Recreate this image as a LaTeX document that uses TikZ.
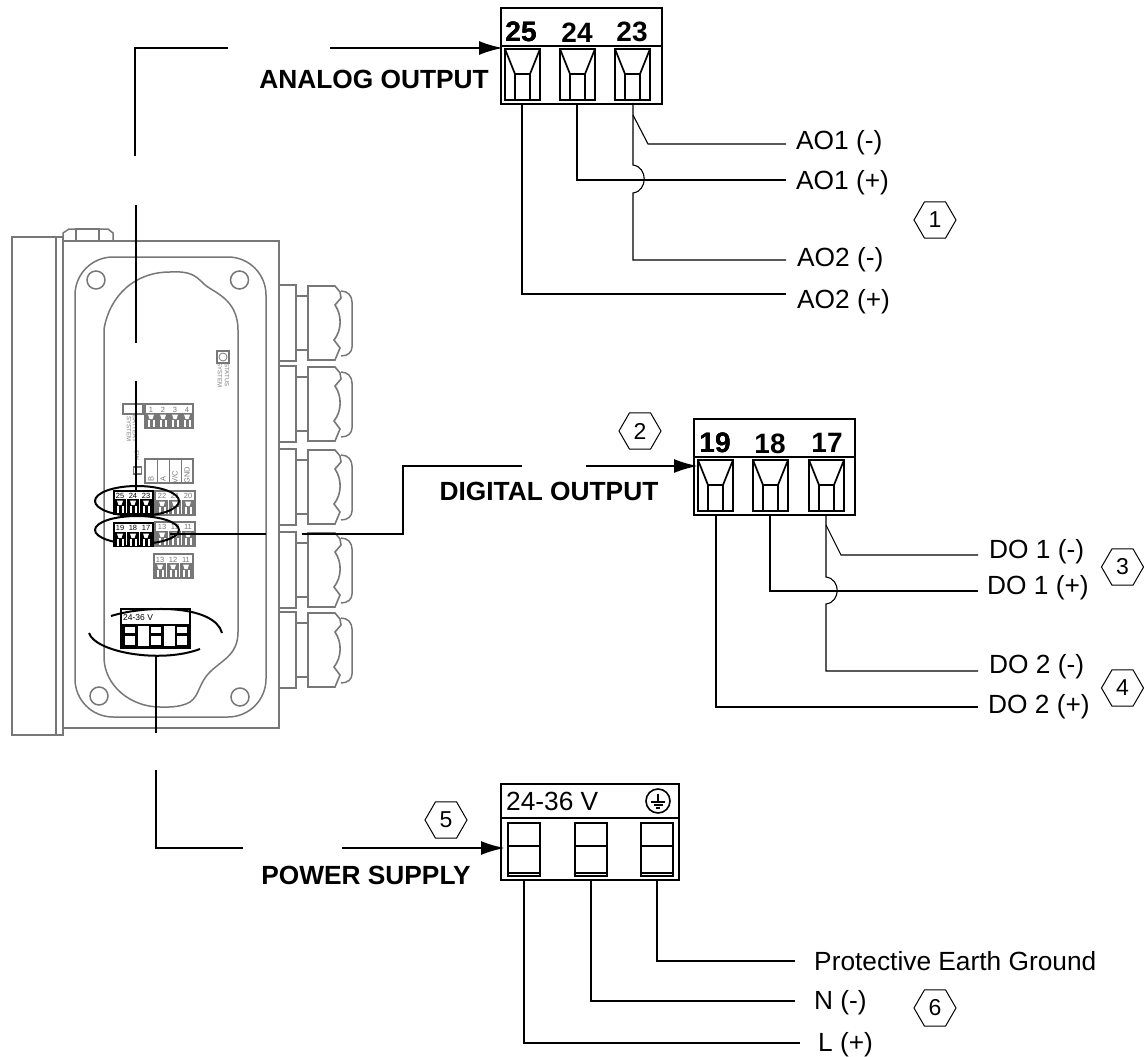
\documentclass[tikz,border=0pt]{standalone}
\usepackage{fontspec}
\setmainfont{Liberation Sans}
\usepackage{tikz}
\usetikzlibrary{arrows.meta,positioning,shapes.geometric}
\definecolor{devgray}{HTML}{777777}
\tikzset{
    device/.style={devgray, line width=1.5pt},
    leader/.style={black, line width=2.4pt},
    ring/.style={black, line width=2pt},
    feed/.style={leader, -{Latex[length=24pt,width=14pt]}},
    wire/.style={black, line width=1.1pt},
    block/.style={draw=black, line width=1.8pt, minimum height=96pt, inner sep=0pt, anchor=north west},
    wirelabel/.style={font=\fontsize{26.3}{30}\selectfont, inner sep=0pt, anchor=west, yshift=-2.5pt},
    headlabel/.style={font=\bfseries\fontsize{26.3}{30}\selectfont, inner sep=0pt},
    pinnumber/.style={font=\bfseries\fontsize{28}{30}\selectfont, inner sep=0pt},
    hexmark/.style={draw=black, line width=1pt, regular polygon, regular polygon sides=6,
        minimum size=42pt, inner sep=0pt, font=\fontsize{23}{26}\selectfont},
    tiny/.style={devgray, font=\fontsize{7.5}{8}\selectfont, inner sep=0pt}
}
% large screw terminal
\newcommand{\bigscrew}[2]{
    \draw[line width=1.7pt] (#1,#2) rectangle (#1+35,#2+51);
    \draw[line width=1.7pt] (#1,#2) -- (#1+10,#2+25) -- (#1+10,#2+51);
    \draw[line width=1.7pt] (#1+35,#2) -- (#1+25,#2+25) -- (#1+25,#2+51);
    \draw[line width=1.7pt] (#1+10,#2+25) -- (#1+25,#2+25);
}
% one cell of a small terminal on the board
\newcommand{\minicell}[3]{
    \fill[#3] (#1,#2+9) rectangle (#1+12,#2+24);
    \fill[white] (#1+3,#2+10.5) -- (#1+9,#2+10.5) -- (#1+7.5,#2+15) -- (#1+4.5,#2+15) -- cycle;
    \fill[white] (#1+2.5,#2+16) rectangle (#1+4.5,#2+23);
    \fill[white] (#1+7.5,#2+16) rectangle (#1+9.5,#2+23);
}
\begin{document}
\begin{tikzpicture}[x=1pt,y=-1pt]
    \useasboundingbox (0,0) rectangle (1144,1057);

    % Enclosure
    \draw[device] (12,237) rectangle (56,735);
    \draw[device] (56,237) rectangle (63,735);
    \draw[device] (63,241) rectangle (279,728);
    \draw[devgray, line width=2pt] (62,241) -- (113,241);
    \draw[device] (63,240) -- (63,233) -- (69,229) -- (108,229) -- (113,233) -- (113,240);
    \draw[devgray, line width=2pt] (76,240) -- (76,229) -- (99,229) -- (99,240);
    \draw[device, rounded corners=38pt] (75,257) rectangle (266,717);
    \foreach \cx/\cy in {96/280,239.5/280,99/696,240/697}
        \draw[device] (\cx,\cy) circle (9);

    % Inner contour
    \draw[device] (104,329) .. controls (110,295) and (135,272) .. (170,272)
        .. controls (190,271) and (195,275) .. (204,284)
        .. controls (212,292) and (238,298) .. (238,330) -- (238,632)
        .. controls (238,655) and (222,660) .. (210,672)
        .. controls (198,684) and (200,695) .. (190,702)
        .. controls (180,708) and (165,707) .. (160,707)
        .. controls (130,707) and (104,685) .. (104,657) -- cycle;

    % Status and battery
    \draw[device] (217,351) rectangle (229,363);
    \draw[device, line width=0.8pt] (223,357) circle (4);
    \node[tiny, font=\fontsize{6}{7}\selectfont, rotate=-90] (statusa) at (220,375) {SYSTEM};
    \node[tiny, font=\fontsize{6}{7}\selectfont, rotate=-90] (statusb) at (227,375) {STATUS};
    \draw[device] (123,404) rectangle (143,414);
    \node[tiny, font=\fontsize{6}{7}\selectfont, rotate=-90] (batterya) at (129,429) {SYSTEM};
    \node[tiny, font=\fontsize{6}{7}\selectfont, rotate=-90] (batteryb) at (135,429) {BATTERY};
    \node[tiny, font=\fontsize{6}{7}\selectfont, rotate=-90] (switch) at (137,455) {SW};
    \draw[device] (133.5,467) rectangle (141.5,474);

    % Gray terminals on the board
    \draw[device] (145,404) rectangle (193,428);
    \foreach \cx/\lab in {145/1,157/2,169/3,181/4} {
        \minicell{\cx}{404}{devgray}
        \node[tiny] (one\lab) at (\cx+6,409.5) {\lab};
    }
    \draw[device] (145,459) rectangle (193,483);
    \foreach \cx in {157,169,181}
        \draw[device, line width=0.8pt] (\cx,459) -- (\cx,483);
    \node[tiny, rotate=90] (busb) at (151,479) {B};
    \node[tiny, rotate=90] (busa) at (163,479) {A};
    \node[tiny, rotate=90] (busv) at (175,477) {V/C};
    \node[tiny, rotate=90] (busg) at (187,475) {GND};
    \draw[device] (155,491) rectangle (195,515);
    \foreach \cx/\lab in {156/22,169/21,182/20} {
        \minicell{\cx}{491}{devgray}
        \node[tiny] (two\lab) at (\cx+6,496) {\lab};
    }
    \draw[device] (155,522) rectangle (195,546);
    \foreach \cx/\lab in {156/13,169/12,182/11} {
        \minicell{\cx}{522}{devgray}
        \node[tiny] (three\lab) at (\cx+6,527) {\lab};
    }
    \draw[device] (154,554) rectangle (193,578);
    \foreach \cx/\lab in {154/13,167/12,180/11} {
        \minicell{\cx}{554}{devgray}
        \node[tiny] (four\lab) at (\cx+6,559.5) {\lab};
    }

    % Marked terminals
    \draw[ring] (137,501) ellipse (42 and 15);
    \draw[ring] (137,530) ellipse (42 and 14);
    \draw[black, line width=2pt, fill=white] (114,491) rectangle (153,514);
    \foreach \cx/\lab in {114/25,127/24,140/23} {
        \minicell{\cx}{490}{black}
        \node[tiny, black] (five\lab) at (\cx+6,496) {\lab};
    }
    \draw[black, line width=2pt, fill=white] (114,523) rectangle (153,546);
    \foreach \cx/\lab in {114/19,127/18,140/17} {
        \minicell{\cx}{523}{black}
        \node[tiny, black] (six\lab) at (\cx+6,528) {\lab};
    }

    % Power terminal on the board
    \draw[black, line width=2pt, fill=white] (121,609) rectangle (190,648);
    \node[black, font=\fontsize{8.5}{9}\selectfont, inner sep=0pt, anchor=west] (boardvolt) at (123,618) {24-36 V};
    \fill[black] (122,624) rectangle (190,648);
    \foreach \cx in {138,164}
        \fill[white] (\cx,626) rectangle (\cx+11,646);
    \foreach \cx in {125,151,177} {
        \fill[white] (\cx,627) rectangle (\cx+10,633);
        \fill[white] (\cx,636) rectangle (\cx+10,645);
    }
    \draw[ring] (111,616) .. controls (150,604) and (215,606) .. (222,633);
    \draw[ring] (89,633) .. controls (95,652) and (160,664) .. (200,649);

    % Cable glands
    \foreach \gy in {285,366,449,532,612} {
        \begin{scope}[shift={(0,\gy)}]
            \draw[device, line width=1.8pt] (279,0) rectangle (296,76);
            \draw[device] (296,11) -- (307,11);
            \draw[device] (296,65) -- (307,65);
            \draw[device, line width=1.6pt] (308,1) -- (335,1) -- (340,7) -- (341,13) -- (335,20)
                .. controls (342,30) and (342,45) .. (334,55) -- (340,63) -- (335,75) -- (308,75) -- cycle;
            \draw[device] (341,6) .. controls (348,6) and (352,11) .. (352,17) -- (352,62)
                .. controls (352,67) and (348,71) .. (341,71);
        \end{scope}
    }

    % Leaders
    \coordinate (aostart) at (135,156);
    \coordinate (aobend) at (135,48);
    \coordinate (aogapa) at (228,48);
    \coordinate (aogapb) at (330,48);
    \coordinate (aotip) at (503,48);
    \draw[leader] (aostart) -- (aobend) -- (aogapa);
    \draw[feed] (aogapb) -- (aotip);
    \draw[leader] (136,205) -- (136,343);
    \draw[leader] (136,381) -- (136,491);
    \coordinate (dostart) at (170,534);
    \coordinate (dogapa) at (266,534);
    \coordinate (dogapb) at (302,534);
    \coordinate (dobend) at (403,534);
    \coordinate (dobendb) at (403,466);
    \coordinate (dogapc) at (522,466);
    \coordinate (dogapd) at (586,466);
    \coordinate (dotip) at (698,466);
    \draw[leader] (dostart) -- (dogapa);
    \draw[leader] (dogapb) -- (dobend) -- (dobendb) -- (dogapc);
    \draw[feed] (dogapd) -- (dotip);
    \coordinate (psstart) at (156,655);
    \coordinate (psgapa) at (156,733);
    \coordinate (psgapb) at (156,770);
    \coordinate (psbend) at (156,848);
    \coordinate (psgapc) at (243,848);
    \coordinate (psgapd) at (342,848);
    \coordinate (pstip) at (505,848);
    \draw[leader] (psstart) -- (psgapa);
    \draw[leader] (psgapb) -- (psbend) -- (psgapc);
    \draw[feed] (psgapd) -- (pstip);
    \node[headlabel] (analog) at (374,79) {ANALOG OUTPUT};
    \node[headlabel] (digital) at (549,491) {DIGITAL OUTPUT};
    \node[headlabel] (power) at (366,875) {POWER SUPPLY};

    % Analog output block
    \node[block, minimum width=161pt] (aoblock) at (500,7) {};
    \draw[line width=1.8pt] (500,46) -- (661,46);
    \foreach \sx in {505,560,615}
        \bigscrew{\sx}{49}
    \node[pinnumber] (pintf) at (521,32) {25};
    \node[pinnumber] (pintq) at (577,33) {24};
    \node[pinnumber] (pintt) at (632,32) {23};
    \coordinate (aopa) at (522,103);
    \coordinate (aopb) at (577,103);
    \coordinate (aopc) at (633,103);
    \coordinate (aoone) at (786,144);
    \coordinate (aotwo) at (786,180);
    \coordinate (aothree) at (786,260);
    \coordinate (aofour) at (786,294);
    \draw[wire] (aopa) |- (aofour);
    \draw[wire] (aopb) |- (aotwo);
    \draw[wire] (aopc) -- (633,165) .. controls (648,167) and (648,191) .. (633,193) |- (aothree);
    \draw[wire] (633,115) -- (648,144) -- (aoone);
    \node[wirelabel] (aominus) at (796,140) {AO1 (-)};
    \node[wirelabel] (aoplus) at (796,180) {AO1 (+)};
    \node[wirelabel] (aotminus) at (797,257) {AO2 (-)};
    \node[wirelabel] (aotplus) at (797,299) {AO2 (+)};

    % Digital output block
    \node[block, minimum width=161pt] (doblock) at (693,418) {};
    \draw[line width=1.8pt] (693,457) -- (854,457);
    \foreach \sx in {698,753,809}
        \bigscrew{\sx}{460}
    \node[pinnumber] (pinnt) at (715,443) {19};
    \node[pinnumber] (pinet) at (770,444) {18};
    \node[pinnumber] (pinst) at (827,443) {17};
    \coordinate (dopa) at (716,515);
    \coordinate (dopb) at (770,515);
    \coordinate (dopc) at (826,515);
    \coordinate (doone) at (978,555);
    \coordinate (dotwo) at (978,591);
    \coordinate (dothree) at (978,671);
    \coordinate (dofour) at (978,707);
    \draw[wire] (dopa) |- (dofour);
    \draw[wire] (dopb) |- (dotwo);
    \draw[wire] (dopc) -- (826,577) .. controls (841,579) and (841,602) .. (826,604) |- (dothree);
    \draw[wire] (826,525) -- (841,555) -- (doone);
    \node[wirelabel] (dominus) at (989,549) {DO 1 (-)};
    \node[wirelabel] (doplus) at (987,585) {DO 1 (+)};
    \node[wirelabel] (dotminus) at (989,664) {DO 2 (-)};
    \node[wirelabel] (dotplus) at (988,704) {DO 2 (+)};

    % Power supply block
    \node[block, minimum width=178pt] (psblock) at (500,783) {};
    \draw[line width=1.8pt] (500,818) -- (678,818);
    \node[wirelabel] (psvolt) at (506,799) {24-36 V};
    \draw[line width=1.6pt] (658,801) circle (12);
    \draw[line width=1.3pt] (658,794) -- (658,802);
    \draw[line width=1.3pt] (651,802) -- (665,802);
    \draw[line width=1.3pt] (653.5,805) -- (662.5,805);
    \draw[line width=1.3pt] (656,808) -- (660,808);
    \foreach \sx in {508,575,641} {
        \draw[line width=1.8pt] (\sx,823) rectangle (\sx+32,876);
        \draw[line width=1.5pt] (\sx,846) -- (\sx+32,846);
        \draw[line width=1.5pt] (\sx,873) -- (\sx+32,873);
    }
    \coordinate (pspa) at (524,879);
    \coordinate (pspb) at (591,879);
    \coordinate (pspc) at (657,879);
    \coordinate (psone) at (795,961);
    \coordinate (pstwo) at (795,1001);
    \coordinate (psthree) at (800,1043);
    \draw[wire] (pspc) |- (psone);
    \draw[wire] (pspb) |- (pstwo);
    \draw[wire] (pspa) |- (psthree);
    \node[wirelabel] (psearth) at (814,959) {Protective Earth Ground};
    \node[wirelabel] (psneutral) at (814,1000) {N (-)};
    \node[wirelabel] (psline) at (818,1042) {L (+)};

    % Item marks
    \node[hexmark] (markone) at (935,220) {1};
    \node[hexmark] (marktwo) at (640,431) {2};
    \node[hexmark] (markthree) at (1122.5,567) {3};
    \node[hexmark] (markfour) at (1122.5,688) {4};
    \node[hexmark] (markfive) at (446,820) {5};
    \node[hexmark] (marksix) at (935,1008) {6};
\end{tikzpicture}
\end{document}
